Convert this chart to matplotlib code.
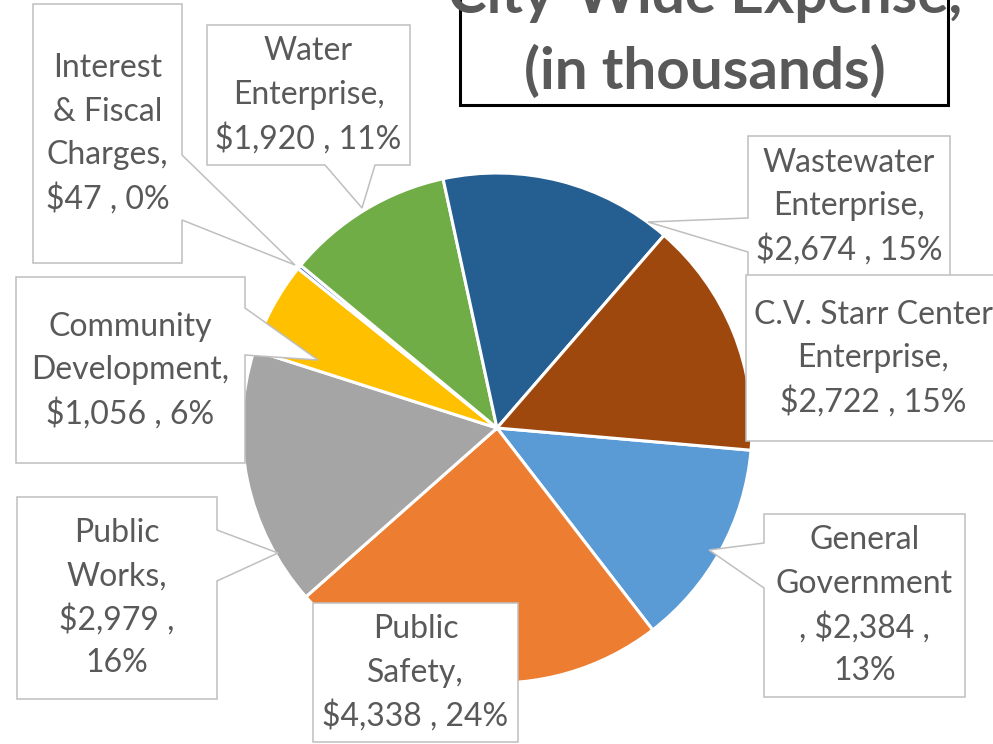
import matplotlib.pyplot as plt
from matplotlib.patches import Polygon, Rectangle

# Expense data (in thousands), in the order the slices are drawn
categories = ["General Government", "Public Safety", "Public Works",
              "Community Development", "Interest & Fiscal Charges",
              "Water Enterprise", "Wastewater Enterprise",
              "C.V. Starr Center Enterprise"]
expenses = [2384, 4338, 2979, 1056, 47, 1920, 2674, 2722]
colors = ["#5B9BD5", "#ED7D31", "#A5A5A5", "#FFC000",
          "#4472C4", "#70AD47", "#255E91", "#9E480E"]
# data labels with the line breaks seen on the chart
label_templates = [
    "General\nGovernment\n, {v} ,\n{p}",
    "Public\nSafety,\n{v} , {p}",
    "Public\nWorks,\n{v} ,\n{p}",
    "Community\nDevelopment,\n{v} , {p}",
    "Interest\n& Fiscal\nCharges,\n{v} , {p}",
    "Water\nEnterprise,\n{v} , {p}",
    "Wastewater\nEnterprise,\n{v} , {p}",
    "C.V. Starr Center\nEnterprise,\n{v} , {p}",
]
title_lines = ["City-Wide Expense,", "(in thousands)"]

W, H = 993, 744
TEXT = "#595959"
FONT = "Lato"

fig = plt.figure(figsize=(W / 100, H / 100), dpi=100)
ax = fig.add_axes([0, 0, 1, 1])
ax.set_xlim(0, W)
ax.set_ylim(0, H)
ax.set_aspect("equal")
ax.axis("off")

# pie
ax.pie(expenses, colors=colors, startangle=-5, counterclock=False,
       center=(497, H - 428), radius=255,
       wedgeprops=dict(edgecolor="white", linewidth=2.2))
ax.set_xlim(0, W)
ax.set_ylim(0, H)

# callout boxes: (x0, y0, x1, y1) in pixels from the top, plus pointer
callouts = [
    ((764, 514, 965, 697), ("left", 543, 588, (709, 550))),
    ((313, 603, 518, 742), None),
    ((17, 497, 217, 699), ("right", 530, 581, (278, 553))),
    ((16, 277, 245, 463), ("right", 308, 355, (318, 360))),
    ((33, 4, 182, 263), ("right", 155, 220, (295, 265))),
    ((207, 25, 410, 165), ("bottom", 325, 375, (362, 208))),
    ((748, 136, 950, 290), ("left", 218, 252, (648, 222))),
    ((746, 275, 1000, 441), None),
]

total = sum(expenses)
for i, (box, ptr) in enumerate(callouts):
    x0, y0, x1, y1 = box
    if ptr is None:
        pts = [(x0, y0), (x1, y0), (x1, y1), (x0, y1)]
    else:
        side, a, b, tip = ptr
        if side == "right":
            pts = [(x0, y0), (x1, y0), (x1, a), tip, (x1, b), (x1, y1), (x0, y1)]
        elif side == "left":
            pts = [(x0, y0), (x1, y0), (x1, y1), (x0, y1), (x0, b), tip, (x0, a)]
        else:
            pts = [(x0, y0), (x1, y0), (x1, y1), (b, y1), tip, (a, y1), (x0, y1)]
    pts = [(px, H - py) for px, py in pts]
    ax.add_patch(Polygon(pts, closed=True, facecolor="white",
                         edgecolor="#BFBFBF", linewidth=1.1, zorder=5))

    v = "${:,}".format(expenses[i])
    p = "{:.0f}%".format(expenses[i] / total * 100)
    lines = label_templates[i].format(v=v, p=p).split("\n")
    cx = (x0 + x1) / 2
    cy = (y0 + y1) / 2
    if i == 6:
        cy = 206
    pitch = 43.5
    for k, line in enumerate(lines):
        ly = cy + (k - (len(lines) - 1) / 2) * pitch
        ax.text(cx, H - ly, line, ha="center", va="center", fontsize=23,
                color=TEXT, family=FONT, zorder=6)

# title box (top is cut off by the canvas)
ax.add_patch(Rectangle((460, H - 105), 488, 120, facecolor="white",
                       edgecolor="black", linewidth=2.2, zorder=7,
                       clip_on=False))
for line, base in zip(title_lines, [13, 89]):
    ax.text(705, H - base, line, ha="center", va="baseline", fontsize=42,
            fontweight="bold", color=TEXT, family=FONT, zorder=8)

fig.savefig("out.png", dpi=100)
